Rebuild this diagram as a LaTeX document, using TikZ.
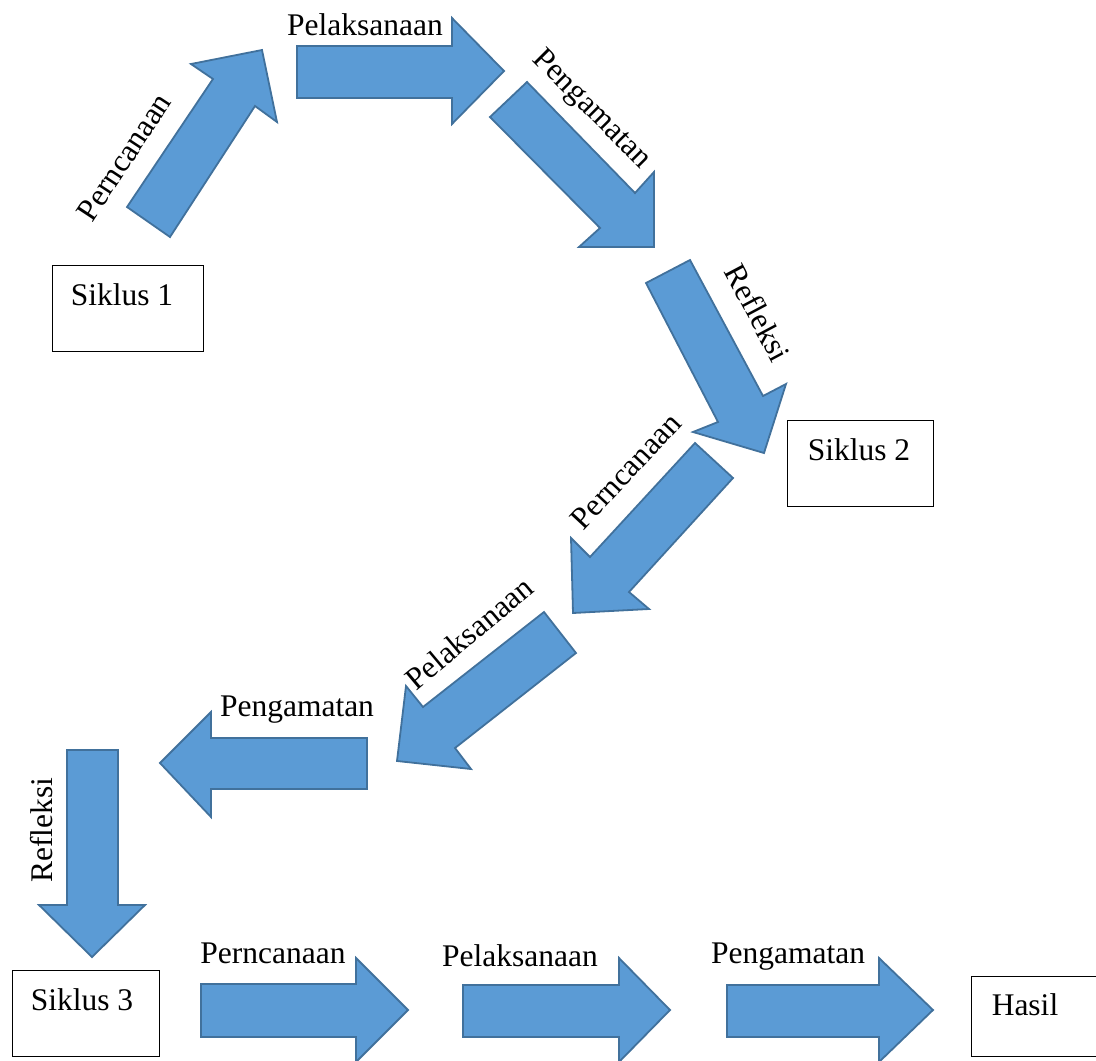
\documentclass[tikz,border=0pt]{standalone}
\usepackage{fontspec}
\setmainfont{Liberation Serif}
\definecolor{arrowblue}{HTML}{5B9BD5}
\definecolor{arrowedge}{HTML}{41719C}
\begin{document}
\begin{tikzpicture}[x=1pt,y=-1pt,
  blockarrow/.style={fill=arrowblue,draw=arrowedge,line width=1.8pt,line join=miter},
  cyclebox/.style={draw=black,line width=1.2pt,minimum width=151pt,minimum height=86pt,anchor=north west,inner sep=0pt},
  lbl/.style={font=\fontsize{31.5}{36}\selectfont,inner sep=0pt,text=black},
]
\useasboundingbox (0,0) rectangle (1096,1061);
\clip (0,0) rectangle (1096,1061);

% boxes
\node[cyclebox] (s1) at (52,265) {};
\node[cyclebox,minimum width=146pt] (s2) at (787,420) {};
\node[cyclebox,minimum width=147pt] (s3) at (12,970) {};
\node[cyclebox,minimum width=140pt,minimum height=80pt] (hasil) at (971,976) {};
\node[lbl,anchor=base] (t1) at (122,305) {Siklus 1};
\node[lbl,anchor=base] (t2) at (859,460) {Siklus 2};
\node[lbl,anchor=base] (t3) at (82,1010) {Siklus 3};
\node[lbl,anchor=base] (th) at (1025,1015) {Hasil};

% cycle 1 arrows
\path[blockarrow] (127,207) -- (213,79) -- (191,64) -- (262,50) -- (277,122) -- (255,106) -- (170,237) -- cycle;
\path[blockarrow] (297,46) -- (452,46) -- (452,18) -- (504,71) -- (452,124) -- (452,98) -- (297,98) -- cycle;
\path[blockarrow] (527,82) -- (635,193) -- (654,172) -- (654,247) -- (579,247) -- (600,228) -- (490,117) -- cycle;
\path[blockarrow] (690,260) -- (763,396) -- (786,384) -- (764,453) -- (693,432) -- (718,422) -- (646,283) -- cycle;

% cycle 2 arrows
\path[blockarrow] (695,443) -- (590,557) -- (571,538) -- (573,613) -- (649,609) -- (629,592) -- (733,478) -- cycle;
\path[blockarrow] (544,612) -- (423,707) -- (406,686) -- (397,761) -- (471,769) -- (455,748) -- (576,653) -- cycle;
\path[blockarrow] (367,738) -- (211,738) -- (211,712) -- (160,763) -- (211,817) -- (211,789) -- (367,789) -- cycle;
\path[blockarrow] (67,750) -- (118,750) -- (118,905) -- (145,905) -- (92,957) -- (39,905) -- (67,905) -- cycle;

% cycle 3 arrows
\path[blockarrow] (201,984) -- (356,984) -- (356,958) -- (408,1010) -- (356,1062) -- (356,1037) -- (201,1037) -- cycle;
\path[blockarrow] (463,985) -- (619,985) -- (619,958) -- (670,1010) -- (619,1062) -- (619,1037) -- (463,1037) -- cycle;
\path[blockarrow] (727,985) -- (879,985) -- (879,958) -- (933,1010) -- (879,1062) -- (879,1037) -- (727,1037) -- cycle;

% labels
\node[lbl,rotate=56.6] (l1) at (124,157) {Perncanaan};
\node[lbl,anchor=base] (l2) at (365,35) {Pelaksanaan};
\node[lbl,rotate=-45] (l3) at (591,110) {Pengamatan};
\node[lbl,rotate=-62] (l4) at (758,313) {Refleksi};
\node[lbl,rotate=47] (l5) at (626,471) {Perncanaan};
\node[lbl,rotate=40] (l6) at (469,633) {Pelaksanaan};
\node[lbl,anchor=base] (l7) at (297,716) {Pengamatan};
\node[lbl,rotate=90] (l8) at (42,830) {Refleksi};
\node[lbl,anchor=base] (l9) at (273,963) {Perncanaan};
\node[lbl,anchor=base] (l10) at (520,966) {Pelaksanaan};
\node[lbl,anchor=base] (l11) at (788,963) {Pengamatan};
\end{tikzpicture}
\end{document}
